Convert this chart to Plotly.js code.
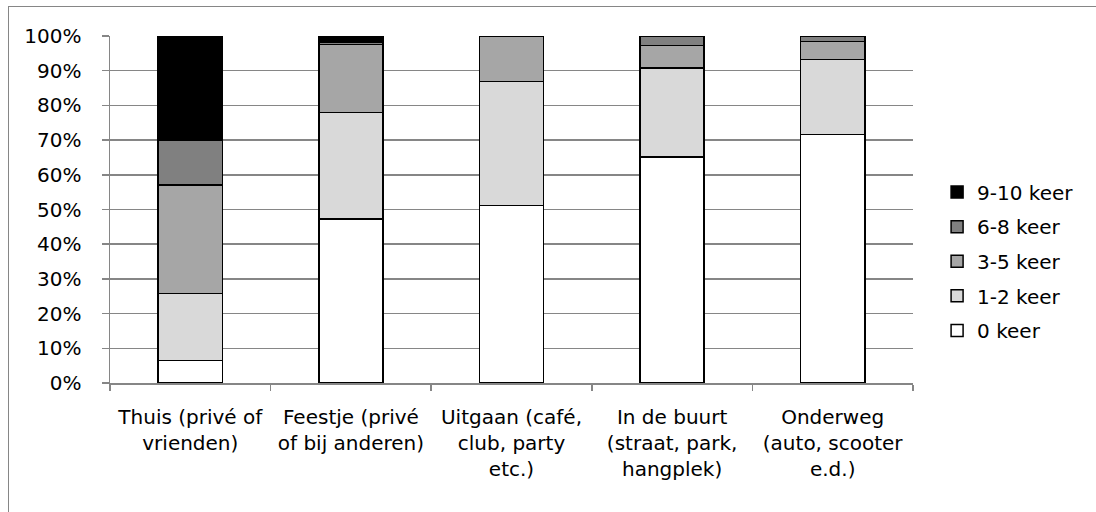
<!DOCTYPE html>
<html>
<head>
<meta charset="utf-8">
<script src="https://cdn.plot.ly/plotly-3.0.1.min.js"></script>
<style>
  html, body { margin: 0; padding: 0; background: #fff; overflow: hidden; width: 1096px; height: 512px; }
  #frame { position: absolute; left: 8px; top: 6px; width: 2000px; height: 2000px; border: 1.5px solid #868686; box-sizing: border-box; }
  #chart { position: absolute; left: 0; top: 0; width: 1096px; height: 512px; }
</style>
</head>
<body>
<div id="frame"></div>
<div id="chart"></div>
<script>
// Categories (x axis labels)
var categories = [
  "Thuis (privé of<br>vrienden)",
  "Feestje (privé<br>of bij anderen)",
  "Uitgaan (café,<br>club, party<br>etc.)",
  "In de buurt<br>(straat, park,<br>hangplek)",
  "Onderweg<br>(auto, scooter<br>e.d.)"
];
// Series values (percent of respondents)
var keer0   = [6.5, 47.2, 51.1, 65.1, 71.6];
var keer1_2 = [19.3, 30.8, 35.8, 25.7, 21.7];
var keer3_5 = [31.3, 19.5, 13.1, 6.4, 5.1];
var keer6_8 = [12.9, 0.7, 0, 2.8, 1.6];
var keer9_10 = [30.0, 1.8, 0, 0, 0];
var seriesNames = ["0 keer", "1-2 keer", "3-5 keer", "6-8 keer", "9-10 keer"];
var yTicks = [0, 10, 20, 30, 40, 50, 60, 70, 80, 90, 100];

var seriesValues = [keer0, keer1_2, keer3_5, keer6_8, keer9_10];
var seriesColors = ["#ffffff", "#d9d9d9", "#a6a6a6", "#808080", "#000000"];

var traces = seriesValues.map(function (vals, i) {
  return {
    type: "bar",
    name: seriesNames[i],
    legendgroup: "g" + i,
    legendrank: 1000 - i,
    x: categories,
    y: vals,
    width: 0.4,
    marker: { color: seriesColors[i], line: { color: "#000000", width: 1.5 } },
    hoverinfo: "skip"
  };
});

var fontFamily = "'DejaVu Sans', sans-serif";
var fs = 20;

var layout = {
  width: 1096,
  height: 512,
  margin: { l: 110, r: 183, t: 36, b: 129 },
  paper_bgcolor: "rgba(0,0,0,0)",
  plot_bgcolor: "#ffffff",
  barmode: "stack",
  showlegend: true,
  font: { family: fontFamily, size: fs, color: "#000000" },
  xaxis: {
    type: "category",
    showline: true,
    linecolor: "#868686",
    linewidth: 1.5,
    ticks: "outside",
    tickson: "boundaries",
    ticklen: 6,
    tickcolor: "#868686",
    tickwidth: 1.5,
    showgrid: false,
    ticklabelstandoff: 15,
    tickfont: { family: fontFamily, size: fs, color: "#000000" }
  },
  yaxis: {
    range: [0, 100],
    tickvals: yTicks,
    ticktext: yTicks.map(function (v) { return v + "%"; }),
    showline: true,
    linecolor: "#868686",
    linewidth: 1.5,
    ticks: "outside",
    ticklen: 7,
    tickcolor: "#868686",
    tickwidth: 1.5,
    showgrid: true,
    gridcolor: "#868686",
    gridwidth: 1.5,
    zeroline: false,
    ticklabelstandoff: 16,
    tickfont: { family: fontFamily, size: fs, color: "#000000" }
  },
  legend: {
    x: 1.03,
    xanchor: "left",
    y: 0.35,
    yanchor: "middle",
    traceorder: "grouped",
    tracegroupgap: 5.6,
    font: { family: fontFamily, size: fs, color: "#000000" },
    bgcolor: "rgba(0,0,0,0)"
  }
};

Plotly.newPlot("chart", traces, layout, { staticPlot: true });
</script>
</body>
</html>
